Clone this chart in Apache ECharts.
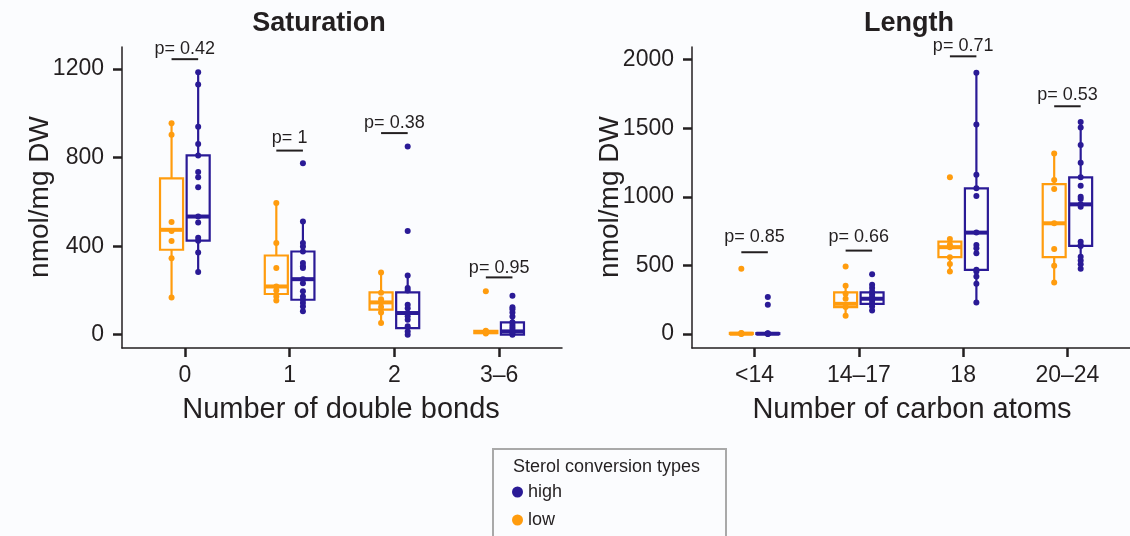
<!DOCTYPE html>
<html>
<head>
<meta charset="utf-8">
<script src="https://cdn.jsdelivr.net/npm/echarts@6/dist/echarts.min.js"></script>
<style>
  html, body { margin: 0; padding: 0; background: #fbfcfe; }
  #main { width: 1130px; height: 536px; }
</style>
</head>
<body>
<div id="main"></div>
<script>
const satCats = ['0', '1', '2', '3–6']
const lenCats = ['<14', '14–17', '18', '20–24']
const satTicks = [0, 400, 800, 1200]
const lenTicks = [0, 500, 1000, 1500, 2000]

// box stats per category: [min, Q1, median, Q3, max]
const satLowBox = [[168, 384, 474, 706, 956], [155, 184, 218, 358, 595], [53, 113, 146, 191, 281], [2, 7, 12, 18, 28]]
const satHighBox = [[283, 425, 534, 810, 1186], [106, 158, 251, 376, 512], [0, 30, 98, 191, 268], [0, 0, 15, 56, 124]]
const lenLowBox = [[0, 0, 2, 8, 15], [133, 196, 220, 303, 351], [455, 560, 633, 674, 693], [375, 560, 807, 1093, 1316]]
const lenHighBox = [[0, 0, 2, 6, 12], [172, 220, 257, 303, 359], [230, 468, 739, 1062, 1905], [475, 642, 945, 1142, 1546]]

// individual samples per category
const satLowPts = [
    [168, 345, 423, 469, 509, 903, 956],
    [155, 173, 200, 218, 302, 414, 595],
    [53, 100, 125, 146, 160, 190, 281],
    [5, 9, 12, 15, 18, 196]
]
const satHighPts = [
    [283, 371, 425, 438, 507, 534, 666, 711, 735, 810, 862, 940, 1131, 1186],
    [106, 128, 143, 158, 173, 196, 233, 251, 302, 309, 324, 376, 399, 414, 512, 775],
    [0, 15, 38, 68, 83, 98, 120, 135, 200, 211, 268, 469, 850],
    [0, 8, 15, 26, 35, 45, 56, 82, 100, 115, 124, 176]
]
const lenLowPts = [
    [0, 2, 5, 8, 475],
    [133, 196, 257, 293, 351, 492],
    [455, 511, 560, 633, 650, 693, 1142],
    [375, 497, 620, 807, 1057, 1122, 1316]
]
const lenHighPts = [
    [0, 2, 4, 6, 213, 269],
    [172, 200, 220, 240, 257, 270, 290, 310, 335, 359, 436],
    [230, 366, 419, 455, 468, 589, 625, 649, 739, 1006, 1062, 1161, 1527, 1905],
    [475, 509, 535, 564, 642, 649, 673, 928, 945, 984, 1001, 1081, 1142, 1248, 1377, 1505, 1546]
]

// p-value labels, bracket height and label height (data units)
const satP = ['0.42', '1', '0.38', '0.95']
const satPLine = [1245, 832, 911, 259]
const satPText = [1290, 888, 956, 301]
const lenP = ['0.85', '0.66', '0.71', '0.53']
const lenPLine = [596, 608, 2024, 1660]
const lenPText = [705, 705, 2097, 1740]

const LOW = '#ff9c0e'
const HIGH = '#2a1a96'
const INK = '#231f20'
const BG = '#fbfcfe'
const FONT = 'Liberation Sans, Arial, sans-serif'
const DODGE = 0.127
const HALF = 0.11

const boxSeries = (grid, box, offset, color) => ({
    type: 'custom',
    xAxisIndex: grid,
    yAxisIndex: grid,
    z: 2,
    silent: true,
    data: box.map((b, i) => [i + offset].concat(b)),
    encode: { x: 0, y: [1, 2, 3, 4, 5] },
    renderItem: (params, api) => {
        const x = api.value(0)
        const c = api.coord([x, api.value(3)])
        const yMin = api.coord([x, api.value(1)])[1]
        const yQ1 = api.coord([x, api.value(2)])[1]
        const yQ3 = api.coord([x, api.value(4)])[1]
        const yMax = api.coord([x, api.value(5)])[1]
        const l = api.coord([x - HALF, 0])[0]
        const r = api.coord([x + HALF, 0])[0]
        const st = { stroke: color, lineWidth: 2.2, fill: null }
        return {
            type: 'group',
            children: [
                { type: 'line', shape: { x1: c[0], y1: yMax, x2: c[0], y2: yQ3 }, style: st },
                { type: 'line', shape: { x1: c[0], y1: yQ1, x2: c[0], y2: yMin }, style: st },
                { type: 'rect', shape: { x: l, y: yQ3, width: r - l, height: Math.max(yQ1 - yQ3, 0.5) },
                  style: { stroke: color, lineWidth: 2.2, fill: BG } },
                { type: 'line', shape: { x1: l, y1: c[1], x2: r, y2: c[1] }, style: { stroke: color, lineWidth: 4 } }
            ]
        }
    }
})

const pointSeries = (name, grid, pts, offset, color) => {
    let data = []
    pts.forEach((arr, i) => arr.forEach(v => data.push([i + offset, v])))
    return {
        name: name,
        type: 'scatter',
        xAxisIndex: grid,
        yAxisIndex: grid,
        z: 3,
        symbol: 'circle',
        symbolSize: 6,
        itemStyle: { color: color, opacity: 1 },
        data: data
    }
}

const pSeries = (grid, labels, lineY, textY) => ({
    type: 'custom',
    xAxisIndex: grid,
    yAxisIndex: grid,
    z: 4,
    silent: true,
    clip: false,
    data: labels.map((p, i) => [i, lineY[i], textY[i]]),
    encode: { x: 0, y: [1, 2] },
    renderItem: (params, api) => {
        const x = api.value(0)
        const a = api.coord([x - DODGE, api.value(1)])
        const b = api.coord([x + DODGE, api.value(1)])
        const t = api.coord([x, api.value(2)])
        return {
            type: 'group',
            children: [
                { type: 'line', shape: { x1: a[0], y1: a[1], x2: b[0], y2: b[1] }, style: { stroke: INK, lineWidth: 2 } },
                { type: 'text', style: { text: 'p= ' + labels[params.dataIndex], x: t[0], y: t[1],
                    textAlign: 'center', textVerticalAlign: 'middle', font: '18px ' + FONT, fill: INK } }
            ]
        }
    }
})

const xAxisCfg = (grid, cats) => ({
    type: 'value',
    gridIndex: grid,
    min: -0.6,
    max: 3.6,
    axisLine: { show: true, onZero: false, lineStyle: { color: INK, width: 1.5 } },
    axisTick: { show: true, length: 9, customValues: [0, 1, 2, 3], lineStyle: { color: INK, width: 2.5 } },
    axisLabel: { customValues: [0, 1, 2, 3], formatter: v => cats[Math.round(v)], color: INK,
        fontSize: 23, fontFamily: FONT, margin: 16 },
    splitLine: { show: false }
})

const yAxisCfg = (grid, min, max, ticks) => ({
    type: 'value',
    gridIndex: grid,
    min: min,
    max: max,
    axisLine: { show: true, onZero: false, lineStyle: { color: INK, width: 1.5 } },
    axisTick: { show: true, length: 9, customValues: ticks, lineStyle: { color: INK, width: 2.5 } },
    axisLabel: { customValues: ticks, formatter: v => String(v), color: INK, fontSize: 23, fontFamily: FONT, margin: 18 },
    splitLine: { show: false }
})

const txt = (text, x, y, size, bold, rot) => ({
    type: 'text',
    x: x,
    y: y,
    rotation: rot || 0,
    style: { text: text, font: (bold ? 'bold ' : '') + size + 'px ' + FONT, fill: INK,
        textAlign: 'center', textVerticalAlign: 'middle' }
})

const chart = echarts.init(document.getElementById('main'))
chart.setOption({
    backgroundColor: BG,
    animation: false,
    grid: [
        { left: 122, right: 568, top: 47, bottom: 188 },
        { left: 692, right: -3, top: 47, bottom: 188 }
    ],
    xAxis: [xAxisCfg(0, satCats), xAxisCfg(1, lenCats)],
    yAxis: [yAxisCfg(0, -60, 1300, satTicks), yAxisCfg(1, -102, 2092, lenTicks)],
    legend: {
        data: ['high', 'low'],
        orient: 'vertical',
        left: 512,
        top: 483,
        padding: 0,
        itemGap: 10,
        itemWidth: 11,
        itemHeight: 11,
        icon: 'circle',
        textStyle: { color: INK, fontSize: 18, fontFamily: FONT }
    },
    graphic: [
        txt('Saturation', 319, 24, 27, true),
        txt('Length', 909, 24, 27, true),
        txt('nmol/mg DW', 40, 197, 28, false, Math.PI / 2),
        txt('nmol/mg DW', 610, 197, 28, false, Math.PI / 2),
        txt('Number of double bonds', 341, 410, 29, false),
        txt('Number of carbon atoms', 912, 410, 29, false),
        { type: 'rect', shape: { x: 493, y: 449, width: 233, height: 100 },
          style: { fill: BG, stroke: '#a9a9a9', lineWidth: 2 }, z: -1 },
        { type: 'text', x: 513, y: 467,
          style: { text: 'Sterol conversion types', font: '18px ' + FONT, fill: INK, textVerticalAlign: 'middle' } }
    ],
    series: [
        boxSeries(0, satLowBox, -DODGE, LOW),
        boxSeries(0, satHighBox, DODGE, HIGH),
        boxSeries(1, lenLowBox, -DODGE, LOW),
        boxSeries(1, lenHighBox, DODGE, HIGH),
        pointSeries('low', 0, satLowPts, -DODGE, LOW),
        pointSeries('high', 0, satHighPts, DODGE, HIGH),
        pointSeries('low', 1, lenLowPts, -DODGE, LOW),
        pointSeries('high', 1, lenHighPts, DODGE, HIGH),
        pSeries(0, satP, satPLine, satPText),
        pSeries(1, lenP, lenPLine, lenPText)
    ]
})
</script>
</body>
</html>
